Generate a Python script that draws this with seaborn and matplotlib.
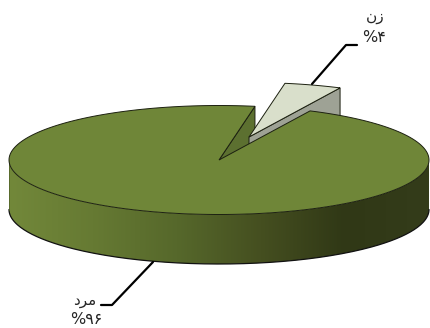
import numpy as np
import seaborn as sns
import matplotlib.pyplot as plt
from matplotlib.patches import Polygon

# values in percent
groups = ['male', 'female']
shares = [96, 4]
label_names = ['\ufea9\ufeae\ufee3', '\ufee5\ufeaf']  # shaped by hand, matplotlib has no RTL
label_values = ['%\u06f9\u06f6', '%\u06f4']

sns.set_style('white')
plt.rcParams['font.family'] = ['DejaVu Sans']

side_colors = ['#72883a', '#667a33', '#56682b', '#454f20', '#303816', '#343c1a']
side_cmap = sns.blend_palette(side_colors, as_cmap=True)

# pie geometry in pixels
cx, cy = 219, 160
rx, ry = 210, 54.5
depth = 49.5
start = 64.3
stretch = 1.1  # the tilted view widens the slice near the back
off_x, off_y = 30, -23


def arc(t0, t1, dx=0, dy=0):
    t = np.radians(np.linspace(t0, t1, 200))
    return np.column_stack([cx + dx + rx * np.cos(t), cy + dy - ry * np.sin(t)])


fig = plt.figure(figsize=(4.3, 3.28), dpi=100)
ax = fig.add_axes([0, 0, 1, 1])
ax.set_xlim(0, 430)
ax.set_ylim(328, 0)
ax.axis('off')

sweep = 360 * shares[1] / sum(shares) * stretch
end = start + sweep

# front wall of the big slice, gradient clipped to it
rim = arc(180, 360)
wall = np.vstack([rim, rim[::-1] + [0, depth]])
im = ax.imshow(np.linspace(0, 1, 256).reshape(1, -1), cmap=side_cmap, aspect='auto',
               extent=[cx - rx, cx + rx, 328, 0], zorder=1)
wall_patch = Polygon(wall, closed=True, transform=ax.transData, fc='none', ec='none')
ax.add_patch(wall_patch)
im.set_clip_path(wall_patch)
ax.plot(rim[:, 0], rim[:, 1] + depth, color='#111111', lw=0.9, zorder=2)
ax.plot([cx - rx, cx - rx], [cy, cy + depth], color='#55662b', lw=0.6, zorder=2)
ax.set_xlim(0, 430)
ax.set_ylim(328, 0)

# cut face inside the notch, the lower part hides under the big slice top
notch = arc(end, end, 0, 0)[0]
ax.add_patch(Polygon([[cx, cy], notch, notch + [0, depth]], closed=True,
                     fc='#5c7030', ec='#1c2010', lw=0.7, zorder=3))

# small slice pulled out
small_rim = arc(start, end, off_x, off_y)
apex = np.array([cx + off_x, cy + off_y])
ax.add_patch(Polygon([apex, small_rim[0], small_rim[0] + [0, depth], apex + [0, depth]],
                     closed=True, fc='#9ea295', ec='#1c2010', lw=0.7, zorder=4))
ax.add_patch(Polygon(np.vstack([[apex], small_rim]), closed=True,
                     fc='#d9dfcb', ec='#1c2010', lw=0.7, zorder=5))

# top of the big slice
ax.add_patch(Polygon(np.vstack([[[cx, cy]], arc(end, start + 360)]), closed=True,
                     fc='#6f8638', ec='#1c2010', lw=0.7, zorder=6))

# leader lines
ax.plot([312, 346, 357], [84, 45, 45], color='black', lw=1.6, zorder=7)
ax.plot([153, 112, 101], [262, 305, 305], color='black', lw=1.6, zorder=7)

# labels
ax.text(375, 17, label_names[1], ha='center', va='center', fontsize=11)
ax.text(374, 37, label_values[1], ha='center', va='center', fontsize=11.5)
ax.text(85, 300, label_names[0], ha='center', va='center', fontsize=11)
ax.text(86, 320, label_values[0], ha='center', va='center', fontsize=11.5)

fig.savefig('out.png', dpi=100)
